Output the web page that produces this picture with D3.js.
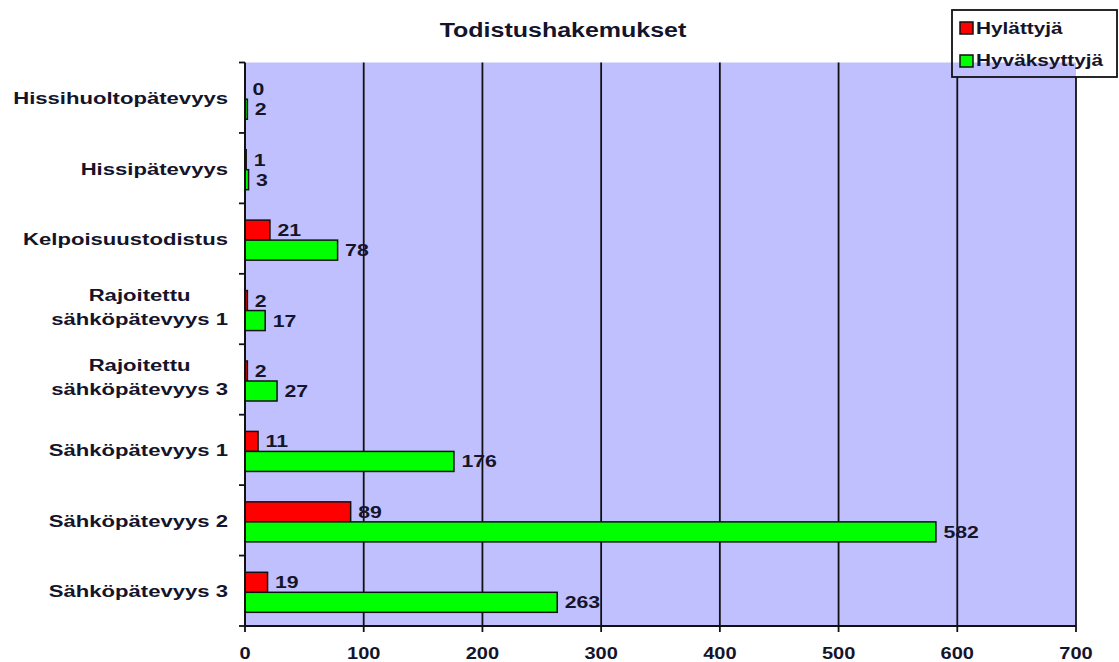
<!DOCTYPE html>
<html>
<head>
<meta charset="utf-8">
<script src="https://cdn.jsdelivr.net/npm/d3@7"></script>
<style>
  body { margin: 0; background: #fff; }
  svg { display: block; }
  text { font-family: Arial, "Liberation Sans", sans-serif; font-weight: bold; fill: #14142a; }
</style>
</head>
<body>
<svg id="chart" width="1119" height="662"></svg>
<script>
const title = "Todistushakemukset";
const categories = [
  ["Hissihuoltopätevyys"],
  ["Hissipätevyys"],
  ["Kelpoisuustodistus"],
  ["Rajoitettu", "sähköpätevyys 1"],
  ["Rajoitettu", "sähköpätevyys 3"],
  ["Sähköpätevyys 1"],
  ["Sähköpätevyys 2"],
  ["Sähköpätevyys 3"]
];
const seriesNames = ["Hylättyjä", "Hyväksyttyjä"];
const rejected = [0, 1, 21, 2, 2, 11, 89, 19];
const accepted = [2, 3, 78, 17, 27, 176, 582, 263];
const xTicks = [0, 100, 200, 300, 400, 500, 600, 700];
const colors = ["#ff0000", "#00ff00"];

const svg = d3.select("#chart");
const catKeys = categories.map(c => c.join(" "));
const series = [rejected, accepted];

const x = d3.scaleLinear().domain([0, 700]).range([245, 1076]);
const y = d3.scaleBand().domain(catKeys).range([62.5, 626]).padding(0);
const ySub = d3.scaleBand().domain(seriesNames).range([0, y.bandwidth()])
  .paddingInner(0).paddingOuter(0.76).align(0.55);

function stretchText(sel, sx) {
  sel.each(function() {
    const t = d3.select(this);
    const tx = +t.attr("data-x"), ty = +t.attr("data-y");
    t.attr("transform", `translate(${tx},${ty}) scale(${sx},1)`);
  });
}

// plot background
svg.append("rect")
  .attr("x", x(0)).attr("y", y.range()[0])
  .attr("width", x(700) - x(0)).attr("height", y.range()[1] - y.range()[0])
  .attr("fill", "#c0c0ff");

// gridlines
svg.append("g").selectAll("line").data(xTicks.filter(d => d > 0)).join("line")
  .attr("x1", d => x(d)).attr("x2", d => x(d))
  .attr("y1", y.range()[0]).attr("y2", y.range()[1])
  .attr("stroke", "#111").attr("stroke-width", 1.8);

// legend box (sits over the plot corner)
const lg = svg.append("g");
lg.append("rect").attr("x", 952).attr("y", 10).attr("width", 165).attr("height", 67)
  .attr("fill", "#fff");
lg.append("rect").attr("x", 952).attr("y", y.range()[0]).attr("width", x(700) - 952)
  .attr("height", 77 - y.range()[0]).attr("fill", "#c0c0ff");
lg.append("rect").attr("x", 952).attr("y", 10).attr("width", 165).attr("height", 67)
  .attr("fill", "none").attr("stroke", "#111").attr("stroke-width", 1.8);
seriesNames.forEach((name, i) => {
  const yy = [22, 55][i];
  lg.append("rect").attr("x", 960).attr("y", yy).attr("width", 13).attr("height", 12)
    .attr("fill", colors[i]).attr("stroke", "#111").attr("stroke-width", 1.5);
  lg.append("text").attr("data-x", 976).attr("data-y", [33.5, 66][i])
    .style("font-size", "16px").text(name).call(stretchText, 1.3);
});

// bars
const rows = catKeys.map((k, i) => ({ key: k, vals: seriesNames.map((s, j) => ({ s, j, v: series[j][i] })) }));
const groups = svg.append("g").selectAll("g").data(rows).join("g")
  .attr("transform", d => `translate(0,${y(d.key)})`);
groups.selectAll("rect").data(d => d.vals).join("rect")
  .attr("x", x(0))
  .attr("y", d => ySub(d.s))
  .attr("width", d => x(d.v) - x(0))
  .attr("height", ySub.bandwidth())
  .attr("fill", d => colors[d.j])
  .attr("stroke", "#111").attr("stroke-width", 1.5);
groups.selectAll("text").data(d => d.vals).join("text")
  .attr("data-x", d => x(d.v) + 7.5)
  .attr("data-y", d => ySub(d.s) + ySub.bandwidth() / 2 + 6)
  .style("font-size", "17px")
  .text(d => d.v)
  .call(stretchText, 1.25);

// axes lines
svg.append("line").attr("x1", x(0)).attr("x2", x(0)).attr("y1", y.range()[0]).attr("y2", y.range()[1])
  .attr("stroke", "#111").attr("stroke-width", 2);
svg.append("line").attr("x1", x(0)).attr("x2", x(700)).attr("y1", y.range()[1]).attr("y2", y.range()[1])
  .attr("stroke", "#111").attr("stroke-width", 2);

// y tick marks at band boundaries
const bounds = catKeys.map(k => y(k)).concat([y.range()[1]]);
svg.append("g").selectAll("line").data(bounds).join("line")
  .attr("x1", x(0) - 6).attr("x2", x(0)).attr("y1", d => d).attr("y2", d => d)
  .attr("stroke", "#111").attr("stroke-width", 1.8);

// x ticks
svg.append("g").selectAll("line").data(xTicks).join("line")
  .attr("x1", d => x(d)).attr("x2", d => x(d)).attr("y1", y.range()[1]).attr("y2", y.range()[1] + 6)
  .attr("stroke", "#111").attr("stroke-width", 1.8);
svg.append("g").selectAll("text").data(xTicks).join("text")
  .attr("data-x", d => x(d)).attr("data-y", 659)
  .attr("text-anchor", "middle")
  .style("font-size", "16px")
  .text(d => d)
  .call(stretchText, 1.25);

// category labels
categories.forEach((lines, i) => {
  const cy = y(catKeys[i]) + y.bandwidth() / 2;
  if (lines.length === 1) {
    svg.append("text").attr("data-x", 228).attr("data-y", cy + 6.5)
      .attr("text-anchor", "end").style("font-size", "17px")
      .text(lines[0]).call(stretchText, 1.3);
  } else {
    const g = svg.append("g");
    const t = g.append("text").attr("text-anchor", "middle").style("font-size", "17px")
      .attr("transform", `translate(0,${cy}) scale(1.3,1)`);
    lines.forEach((ln, k) => {
      t.append("tspan").attr("x", 0).attr("y", k === 0 ? -8 : 16).text(ln);
    });
    const bb = g.node().getBBox();
    g.attr("transform", `translate(${228 - (bb.x + bb.width)},0)`);
  }
});

// title
svg.append("text").attr("data-x", 563).attr("data-y", 37)
  .attr("text-anchor", "middle").style("font-size", "20px")
  .text(title).call(stretchText, 1.25);
</script>
</body>
</html>
